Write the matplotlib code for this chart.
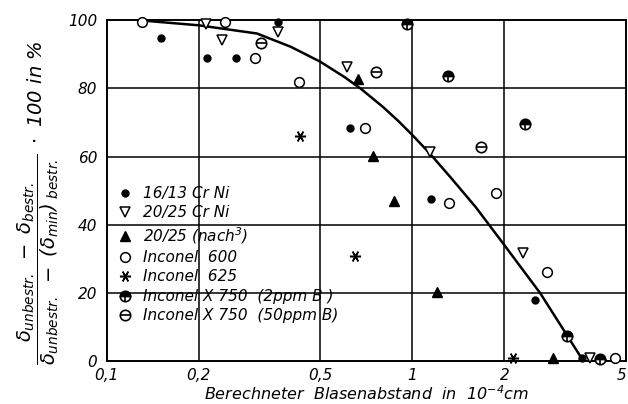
import matplotlib
matplotlib.use("Agg")
import matplotlib.pyplot as plt
from matplotlib.legend_handler import HandlerTuple

plt.rcParams['font.family'] = ['DejaVu Sans']
plt.rcParams['font.style'] = 'italic'
plt.rcParams['mathtext.fontset'] = 'dejavusans'

# ---- data ----
crni_16_13_x = [0.151, 0.213, 0.265, 0.364, 0.626, 1.15, 2.51, 3.58]
crni_16_13_y = [94.7, 88.9, 88.9, 99.4, 68.3, 47.5, 17.9, 0.8]

crni_20_25_x = [0.211, 0.238, 0.364, 0.612, 1.14, 2.30, 3.80]
crni_20_25_y = [98.8, 94.1, 96.5, 86.2, 61.3, 31.7, 1.0]

nach3_x = [0.666, 0.744, 0.867, 1.20, 2.88]
nach3_y = [82.7, 60.1, 46.9, 20.2, 1.0]

inc600_x = [0.13, 0.244, 0.305, 0.427, 0.701, 1.32, 1.88, 2.75, 4.59]
inc600_y = [99.5, 99.4, 88.9, 81.8, 68.3, 46.3, 49.3, 26.1, 0.8]

inc625_x = [0.429, 0.650, 2.13]
inc625_y = [66.0, 30.8, 0.8]

x750_2_x = [0.963, 1.31, 2.33, 3.20, 4.10]
x750_2_y = [98.8, 83.6, 69.5, 7.3, 0.6]

x750_50_x = [0.320, 0.762, 1.68]
x750_50_y = [93.3, 84.8, 62.8]

curve_x = [0.135, 0.2, 0.31, 0.4, 0.5, 0.6, 0.68, 0.8, 0.9, 1.0, 1.14, 1.33, 1.61, 2.0, 2.62, 3.05, 3.55, 3.62]
curve_y = [99.8, 98.5, 96.1, 92.2, 87.8, 83.3, 79.8, 74.6, 70.4, 66.3, 60.9, 54.0, 45.2, 34.0, 19.9, 10.6, 1.3, 0.0]

x_ticks = [0.1, 0.2, 0.5, 1, 2, 5]
x_ticklabels = ["0,1", "0,2", "0,5", "1", "2", "5"]
y_ticks = [0, 20, 40, 60, 80, 100]

labels = ["16/13 Cr Ni", "20/25 Cr Ni", r"20/25 (nach$^{3}$)", "Inconel  600",
          "Inconel  625", "Inconel X 750  (2ppm B )", "Inconel X 750  (50ppm B)"]

fig = plt.figure(figsize=(6.28, 4.04), dpi=100)
ax = fig.add_axes([0.170, 0.106, 0.827, 0.844])

ax.set_xscale('log')
ax.set_xlim(0.1, 5)
ax.set_ylim(0, 100)

for xv in [0.2, 0.5, 1, 2]:
    ax.axvline(xv, color='black', lw=1.1, zorder=1)
for yv in [20, 40, 60, 80]:
    ax.axhline(yv, color='black', lw=1.1, zorder=1)

ax.plot(curve_x, curve_y, color='black', lw=1.8, zorder=2, solid_joinstyle='round')

kw = dict(ls='none', clip_on=False, zorder=3)
h1, = ax.plot(crni_16_13_x, crni_16_13_y, marker='o', ms=5, mfc='black', mec='black', **kw)
h2, = ax.plot(crni_20_25_x, crni_20_25_y, marker='v', ms=7.5, mfc='white', mec='black', mew=1.1, **kw)
h3, = ax.plot(nach3_x, nach3_y, marker='^', ms=6.5, mfc='black', mec='black', **kw)
h4, = ax.plot(inc600_x, inc600_y, marker='o', ms=7, mfc='white', mec='black', mew=1.1, **kw)
h5, = ax.plot(inc625_x, inc625_y, marker=(6, 2, 30), ms=8, mec='black', mew=1.1, **kw)
h6a, = ax.plot(x750_2_x, x750_2_y, marker='o', ms=7.5, fillstyle='top', mfc='black',
               mfcalt='white', mec='black', mew=1.2, **kw)
h6b, = ax.plot(x750_2_x, x750_2_y, marker='|', ms=7.5, mec='black', mew=1.2, **kw)
h7a, = ax.plot(x750_50_x, x750_50_y, marker='o', ms=7.5, mfc='white', mec='black', mew=1.2, **kw)
h7b, = ax.plot(x750_50_x, x750_50_y, marker='_', ms=7.5, mec='black', mew=1.2, **kw)

ax.set_xticks(x_ticks)
ax.set_xticklabels(x_ticklabels)
ax.xaxis.set_minor_locator(matplotlib.ticker.NullLocator())
ax.set_yticks(y_ticks)
ax.tick_params(axis='x', length=0, labelsize=11, pad=5)
ax.tick_params(axis='y', length=0, labelsize=11, pad=7)
xt = ax.get_xticklabels()
xt[-1].set_horizontalalignment('right')
for lab in xt + ax.get_yticklabels():
    lab.set_fontstyle('italic')

for s in ax.spines.values():
    s.set_linewidth(1.4)
    s.set_color('black')

ax.set_xlabel(r"Berechneter  Blasenabstand  in  10$^{-4}$cm", fontsize=11.5, labelpad=1)

fig.text(38 / 628, 1 - 203 / 404,
         r"$\dfrac{\delta_{unbestr.}\ -\ \delta_{bestr.}}{\delta_{unbestr.}\ -\ (\delta_{min})_{\ bestr.}}\ \cdot\ 100\ \mathit{in}\ \%$",
         rotation=90, ha='center', va='center', fontsize=14)

leg = ax.legend([h1, h2, h3, h4, h5, (h6a, h6b), (h7a, h7b)], labels,
                handler_map={tuple: HandlerTuple(ndivide=1)},
                loc='upper left', bbox_to_anchor=(0.0, 0.545), frameon=False,
                fontsize=11, handlelength=1.0, handletextpad=0.7, labelspacing=0.29,
                borderaxespad=0.3, numpoints=1)
for t in leg.get_texts():
    t.set_fontstyle('italic')

fig.savefig("out.png", dpi=100)
